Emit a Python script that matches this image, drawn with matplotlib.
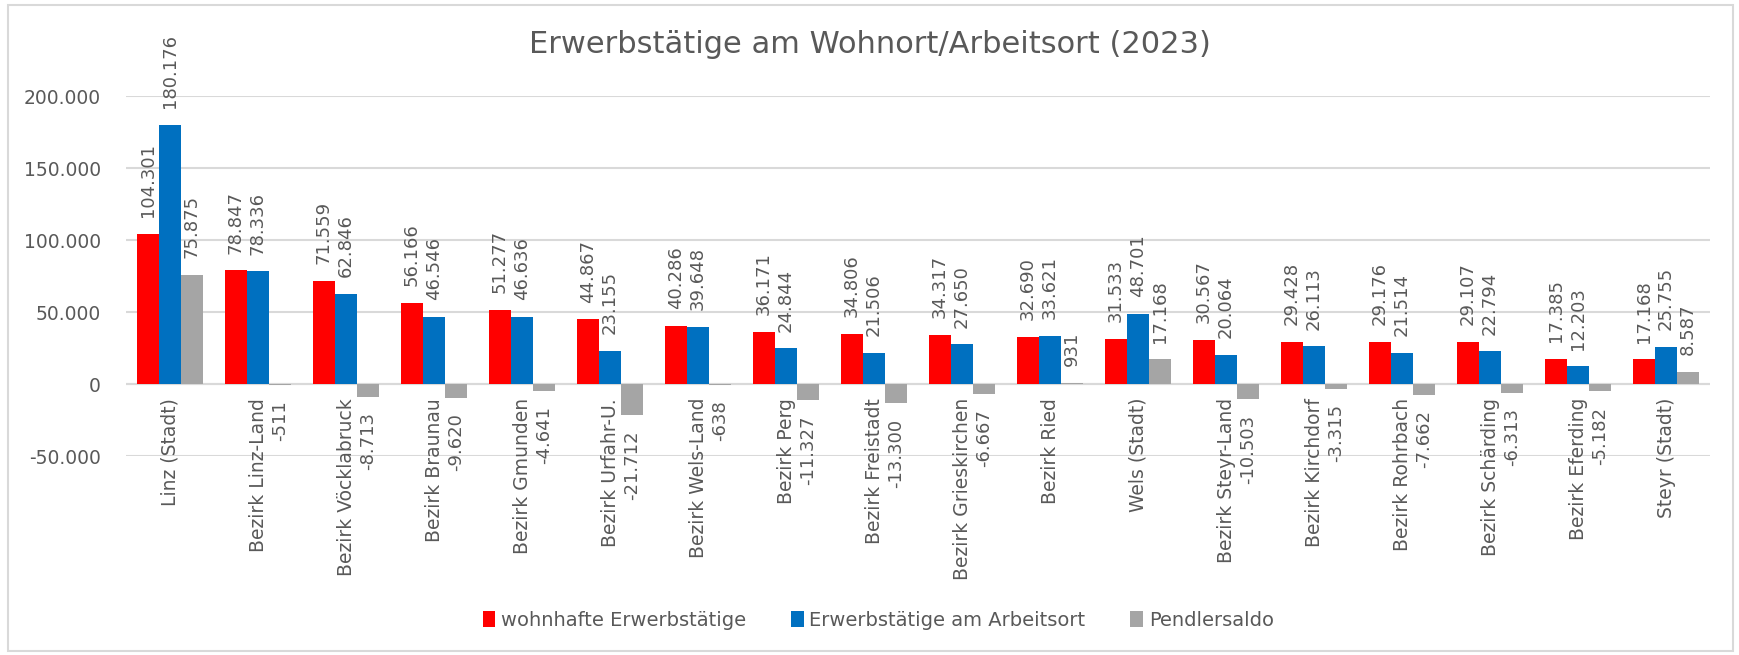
import matplotlib
matplotlib.use("Agg")
import matplotlib.pyplot as plt
from matplotlib.patches import Rectangle
import numpy as np

# --- data ---------------------------------------------------------------
categories = ["Linz (Stadt)", "Bezirk Linz-Land", "Bezirk Vöcklabruck", "Bezirk Braunau",
              "Bezirk Gmunden", "Bezirk Urfahr-U.", "Bezirk Wels-Land", "Bezirk Perg",
              "Bezirk Freistadt", "Bezirk Grieskirchen", "Bezirk Ried", "Wels (Stadt)",
              "Bezirk Steyr-Land", "Bezirk Kirchdorf", "Bezirk Rohrbach", "Bezirk Schärding",
              "Bezirk Eferding", "Steyr (Stadt)"]
wohnhaft = [104301, 78847, 71559, 56166, 51277, 44867, 40286, 36171, 34806,
            34317, 32690, 31533, 30567, 29428, 29176, 29107, 17385, 17168]
arbeitsort = [180176, 78336, 62846, 46546, 46636, 23155, 39648, 24844, 21506,
              27650, 33621, 48701, 20064, 26113, 21514, 22794, 12203, 25755]
pendlersaldo = [75875, -511, -8713, -9620, -4641, -21712, -638, -11327, -13300,
                -6667, 931, 17168, -10503, -3315, -7662, -6313, -5182, 8587]
series_names = ["wohnhafte Erwerbstätige", "Erwerbstätige am Arbeitsort", "Pendlersaldo"]
y_ticks = [-50000, 0, 50000, 100000, 150000, 200000]

colors = ["#FF0000", "#0070C0", "#A5A5A5"]
TXT = "#595959"
GRID = "#D9D9D9"


def de(v):
    # German thousands separator
    return f"{v:,.0f}".replace(",", ".")


plt.rcParams["font.family"] = ["DejaVu Sans"]

fig = plt.figure(figsize=(17.39, 6.55), dpi=100)
ax = fig.add_axes([126 / 1739, 1 - 456 / 655, (1710 - 126) / 1739, (456 - 96) / 655])

x = np.arange(len(categories))
w = 0.25
for k, (vals, col) in enumerate(zip([wohnhaft, arbeitsort, pendlersaldo], colors)):
    pos = x + (k - 1) * w
    ax.bar(pos, vals, width=w, color=col, label=series_names[k], zorder=3)
    for xi, v in zip(pos, vals):
        if v >= 0:
            ax.annotate(de(v), (xi, v), xytext=(0, 12), textcoords="offset points",
                        rotation=90, ha="center", va="bottom", fontsize=13, color=TXT)
        else:
            ax.annotate(de(v), (xi, v), xytext=(0, -11), textcoords="offset points",
                        rotation=90, ha="center", va="top", fontsize=13, color=TXT)

# category labels hang from the zero line
for xi, cat in zip(x, categories):
    ax.annotate(cat, (xi, 0), xytext=(0, -10), textcoords="offset points",
                rotation=90, ha="center", va="top", fontsize=13.5, color=TXT)

ax.set_xlim(-0.5, len(categories) - 0.5)
ax.set_ylim(-50000, 200000)
ax.set_yticks(y_ticks)
ax.set_yticklabels([de(t) for t in y_ticks])
ax.set_xticks([])
ax.tick_params(axis="y", length=0, pad=18, labelsize=13.5, labelcolor=TXT)
ax.grid(axis="y", color=GRID, lw=1.5, zorder=0)
ax.axhline(0, color=GRID, lw=1.5, zorder=2)
for s in ax.spines.values():
    s.set_visible(False)

fig.text(0.5, 1 - 53 / 655, "Erwerbstätige am Wohnort/Arbeitsort (2023)", ha="center",
         va="baseline", fontsize=22, color=TXT)

fig.legend(loc="center", bbox_to_anchor=(0.505, 1 - 620 / 655), ncol=3, frameon=False,
           fontsize=14, labelcolor=TXT, handlelength=0.65, handleheight=0.9,
           handletextpad=0.3, columnspacing=2.3)

# light chart border
fig.patches.append(Rectangle((8 / 1739, 4 / 655), 1 - 14 / 1739, 1 - 9 / 655,
                             transform=fig.transFigure, fill=False, ec=GRID, lw=1.5))

fig.savefig("out.png", dpi=100, facecolor="white")
